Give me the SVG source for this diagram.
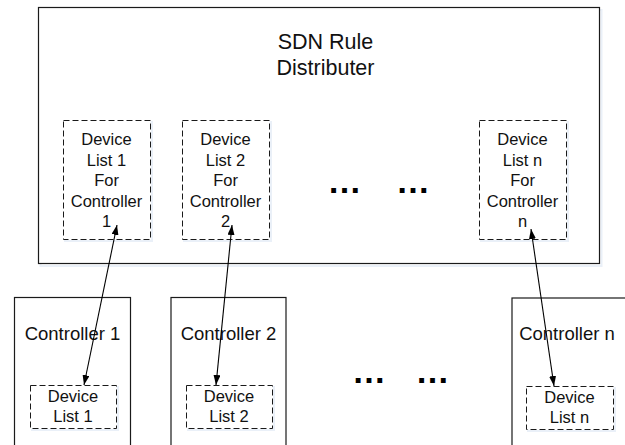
<svg xmlns="http://www.w3.org/2000/svg" width="625" height="445" viewBox="0 0 625 445">
  <style>
    .box { fill: #ffffff; stroke: #1a1a1a; stroke-width: 1.2; }
    .shadow { fill: none; stroke: #eaf0f8; stroke-width: 2; }
    .dash { fill: #ffffff; stroke: #1a1a1a; stroke-width: 1; stroke-dasharray: 6 3; }
    .title { font-family: "Liberation Sans", Arial, sans-serif; font-size: 21.5px; fill: #111; text-anchor: middle; }
    .ctl { font-family: "Liberation Sans", Arial, sans-serif; font-size: 18.5px; fill: #111; text-anchor: middle; }
    .lbl { font-family: "Liberation Sans", Arial, sans-serif; font-size: 16.5px; fill: #111; text-anchor: middle; }
    .dots { font-family: "Liberation Sans", Arial, sans-serif; font-size: 34px; font-weight: bold; fill: #000; text-anchor: middle; }
    .link { stroke: #000; stroke-width: 1.1; fill: none; marker-start: url(#head); marker-end: url(#head); }
  </style>
  <defs>
    <marker id="head" viewBox="0 0 10 7" refX="10" refY="3.5" markerWidth="10" markerHeight="7" markerUnits="userSpaceOnUse" orient="auto-start-reverse">
      <path d="M0,0 L10,3.5 L0,7 z" fill="#000"/>
    </marker>
  </defs>

  <!-- rule distributer -->
  <g id="distributer">
    <rect class="shadow" x="40.5" y="10" width="561" height="256"/>
    <rect class="box" x="38.5" y="7.5" width="561" height="256"/>
    <text class="title" x="325.5" y="49">SDN Rule</text>
    <text class="title" x="325.5" y="75">Distributer</text>
  </g>

  <g id="list-dist-1">
    <rect class="shadow" x="65" y="122" width="87" height="119"/>
    <rect class="dash" x="63.5" y="120.5" width="87" height="119"/>
    <text class="lbl" x="106.5" y="145">Device</text>
    <text class="lbl" x="106.5" y="165.5">List 1</text>
    <text class="lbl" x="106.5" y="186">For</text>
    <text class="lbl" x="106.5" y="206.5">Controller</text>
    <text class="lbl" x="106.5" y="227">1</text>
  </g>

  <g id="list-dist-2">
    <rect class="shadow" x="184" y="122" width="87" height="119"/>
    <rect class="dash" x="182.5" y="120.5" width="87" height="119"/>
    <text class="lbl" x="225.5" y="145">Device</text>
    <text class="lbl" x="225.5" y="165.5">List 2</text>
    <text class="lbl" x="225.5" y="186">For</text>
    <text class="lbl" x="225.5" y="206.5">Controller</text>
    <text class="lbl" x="225.5" y="227">2</text>
  </g>

  <g id="list-dist-n">
    <rect class="shadow" x="481" y="122" width="87" height="119"/>
    <rect class="dash" x="479.5" y="120.5" width="87" height="119"/>
    <text class="lbl" x="522.5" y="145">Device</text>
    <text class="lbl" x="522.5" y="165.5">List n</text>
    <text class="lbl" x="522.5" y="186">For</text>
    <text class="lbl" x="522.5" y="206.5">Controller</text>
    <text class="lbl" x="522.5" y="227">n</text>
  </g>

  <g id="dots-upper">
    <text class="dots" x="344.5" y="193">…</text>
    <text class="dots" x="413" y="193">…</text>
  </g>

  <!-- controllers -->
  <g id="controller-1">
    <rect class="box" x="14.5" y="297.5" width="116" height="160"/>
    <text class="ctl" x="72.5" y="340">Controller 1</text>
    <rect class="shadow" x="32" y="387" width="86" height="43"/>
    <rect class="dash" x="30.5" y="385.5" width="86" height="43"/>
    <text class="lbl" x="73" y="402">Device</text>
    <text class="lbl" x="73" y="422">List 1</text>
  </g>

  <g id="controller-2">
    <rect class="box" x="171" y="297.5" width="115" height="160"/>
    <text class="ctl" x="228.5" y="340">Controller 2</text>
    <rect class="shadow" x="188" y="387" width="86" height="43"/>
    <rect class="dash" x="186.5" y="385.5" width="86" height="43"/>
    <text class="lbl" x="229" y="402">Device</text>
    <text class="lbl" x="229" y="422">List 2</text>
  </g>

  <g id="controller-n">
    <rect class="box" x="512" y="298" width="130" height="160"/>
    <text class="ctl" x="567" y="340">Controller n</text>
    <rect class="shadow" x="528" y="388" width="87" height="43"/>
    <rect class="dash" x="526.5" y="386.5" width="87" height="43"/>
    <text class="lbl" x="569.5" y="403">Device</text>
    <text class="lbl" x="569.5" y="423">List n</text>
  </g>

  <g id="dots-lower">
    <text class="dots" x="369" y="383">…</text>
    <text class="dots" x="432.5" y="383">…</text>
  </g>

  <!-- two-way links between lists -->
  <g id="connectors">
    <line class="link" x1="117" y1="225" x2="84" y2="385"/>
    <line class="link" x1="232" y1="225" x2="216" y2="385"/>
    <line class="link" x1="531" y1="229" x2="554" y2="386"/>
  </g>
</svg>
